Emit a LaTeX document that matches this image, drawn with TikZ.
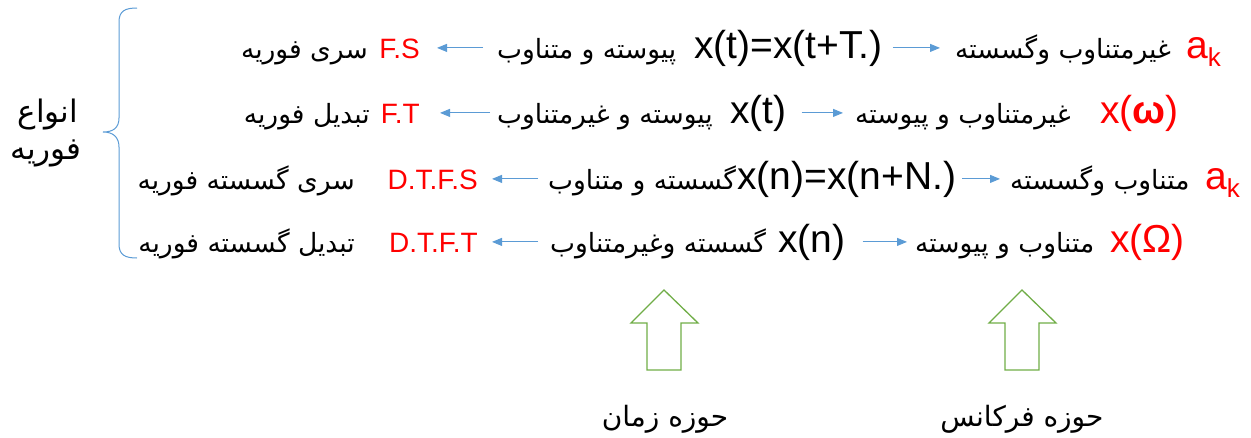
\documentclass[tikz,border=0pt]{standalone}
\usepackage{fontspec}
\setmainfont{Liberation Sans}
\newfontfamily\fa[Script=Arabic]{DejaVu Sans}
\TeXXeTstate=1
\usetikzlibrary{arrows.meta}
\definecolor{myred}{HTML}{FF0000}
\definecolor{myblue}{HTML}{5B9BD5}
\definecolor{mygreen}{HTML}{70AD47}
\begin{document}
\begin{tikzpicture}[x=1pt,y=-1pt,
  lat/.style={inner sep=0pt, anchor=base west, font=\fontsize{39}{41}\selectfont},
  redlat/.style={lat, text=myred},
  redlab/.style={inner sep=0pt, anchor=base east, text=myred, font=\fontsize{28}{30}\selectfont},
  fw/.style={inner sep=0pt, anchor=base west, font=\fa\fontsize{26.5}{30}\selectfont},
  fe/.style={fw, anchor=base east},
  big/.style={inner sep=0pt, font=\fa\fontsize{31}{34}\selectfont},
  dom/.style={inner sep=0pt, font=\fa\fontsize{28}{32}\selectfont},
  barrow/.style={myblue, line width=0.9pt, -{Triangle[length=10pt,width=8pt]}},
  blockarrow/.style={mygreen, line width=1.3pt, line join=miter},
  bracestyle/.style={myblue, line width=1pt}
]
\path[use as bounding box] (0,0) rectangle (1251,437);

% row 1
\node[fe] (t1) at (368,58) {\beginR سری فوریه\endR};
\node[redlab] (fs) at (420,58) {F.S};
\node[fw] (p1) at (497,58) {\beginR پیوسته و متناوب\endR};
\node[lat] (x1) at (694,58) {x(t)=x(t+T.)};
\node[fw] (q1) at (955,58) {\beginR غیرمتناوب وگسسته\endR};
\node[redlat] (a1) at (1186,58) {a\raisebox{-8pt}{\fontsize{26}{28}\selectfont k}};
\draw[barrow, shorten <=14pt, shorten >=17pt] (p1.west |- x1) -- (fs.east |- x1);
\draw[barrow, shorten <=10pt, shorten >=15pt] (x1.east) -- (q1.west |- x1);

% row 2
\node[fe] (t2) at (370,123) {\beginR تبدیل فوریه\endR};
\node[redlab] (ft) at (420,123) {F.T};
\node[fw] (p2) at (497,123) {\beginR پیوسته و غیرمتناوب\endR};
\node[lat] (x2) at (730,123) {x(t)};
\node[fw] (q2) at (855,123) {\beginR غیرمتناوب و پیوسته\endR};
\node[redlat] (w2) at (1100,123) {x(\textbf{ω})};
\draw[barrow, shorten <=7pt, shorten >=20pt] (p2.west |- x2) -- (ft.east |- x2);
\draw[barrow, shorten <=15pt, shorten >=12pt] (x2.east) -- (q2.west |- x2);

% row 3
\node[fe] (t3) at (355,189) {\beginR سری گسسته فوریه\endR};
\node[redlab] (dfs) at (478,189) {D.T.F.S};
\node[fw] (p3) at (548,189) {\beginR گسسته و متناوب\endR};
\node[lat] (x3) at (737,189) {x(n)=x(n+N.)};
\node[fw] (q3) at (1010,189) {\beginR متناوب وگسسته\endR};
\node[redlat] (a3) at (1205,189) {a\raisebox{-8pt}{\fontsize{26}{28}\selectfont k}};
\draw[barrow, shorten <=10pt, shorten >=14pt] (p3.west |- x3) -- (dfs.east |- x3);
\draw[barrow, shorten <=6pt, shorten >=10pt] (x3.east) -- (q3.west |- x3);

% row 4
\node[fe] (t4) at (355,252) {\beginR تبدیل گسسته فوریه\endR};
\node[redlab] (dft) at (478,252) {D.T.F.T};
\node[fw] (p4) at (550,252) {\beginR گسسته وغیرمتناوب\endR};
\node[lat] (x4) at (778,252) {x(n)};
\node[fw] (q4) at (915,252) {\beginR متناوب و پیوسته\endR};
\node[redlat] (w4) at (1110,252) {x(Ω)};
\draw[barrow, shorten <=12pt, shorten >=14pt] (p4.west |- x4) -- (dft.east |- x4);
\draw[barrow, shorten <=17pt, shorten >=8pt] (x4.east) -- (q4.west |- x4);

% left label and brace
\node[big] (l1) at (48,115) {\beginR انواع\endR};
\node[big] (l2) at (46,153) {\beginR فوریه\endR};
\draw[bracestyle] (137,8) .. controls (125,8) and (119,11) .. (119,22) -- (119,118)
  .. controls (119,128) and (113,132) .. (103,132)
  .. controls (113,132) and (119,137) .. (119,147) -- (119,244)
  .. controls (119,255) and (125,258) .. (137,258);

% green block arrows
\draw[blockarrow] (647,370) -- (647,323) -- (631,323) -- (664,290) -- (698,323) -- (681,323) -- (681,370) -- cycle;
\draw[blockarrow] (1005,370) -- (1005,323) -- (989,323) -- (1022,290) -- (1056,323) -- (1039,323) -- (1039,370) -- cycle;

\node[dom] (d1) at (665,419) {\beginR حوزه زمان\endR};
\node[dom] (d2) at (1022,419) {\beginR حوزه فرکانس\endR};
\end{tikzpicture}
\end{document}
